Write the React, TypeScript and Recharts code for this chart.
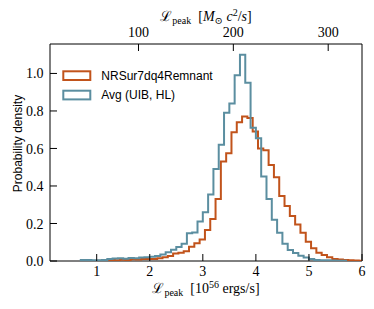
import React from 'react';
import { LineChart, Line, XAxis, YAxis, ReferenceArea, Legend } from 'recharts';

// ---- series meta ----
const seriesNames = ['NRSur7dq4Remnant', 'Avg (UIB, HL)'];
const seriesColors = ['#c1531b', '#5b8ea0'];

// ---- histogram data (density per bin, bins of width 0.1 in 10^56 erg/s) ----
const binWidth = 0.1;
const nrsurFirstEdge = 1.04;
const nrsurDensity = [
  0.002, 0.004, 0.006, 0.004, 0.007, 0.006, 0.009, 0.008, 0.010, 0.011,
  0.010, 0.014, 0.020, 0.027, 0.040, 0.044, 0.052, 0.076, 0.094, 0.114,
  0.165, 0.224, 0.330, 0.530, 0.574, 0.686, 0.740, 0.770, 0.762, 0.690,
  0.600, 0.590, 0.512, 0.446, 0.347, 0.293, 0.240, 0.195, 0.150, 0.103,
  0.068, 0.044, 0.032, 0.020, 0.011, 0.008, 0.005, 0.004, 0.003, 0.002,
];
const avgFirstEdge = 0.7;
const avgDensity = [
  0.006, 0.006, 0.004, 0.004, 0.006, 0.010, 0.013, 0.015, 0.012, 0.016,
  0.014, 0.018, 0.020, 0.022, 0.027, 0.034, 0.046, 0.060, 0.075, 0.092,
  0.148, 0.152, 0.210, 0.260, 0.355, 0.490, 0.620, 0.790, 0.840, 0.990,
  1.100, 0.950, 0.710, 0.655, 0.450, 0.330, 0.220, 0.150, 0.092, 0.058,
  0.042, 0.028, 0.018, 0.010, 0.006, 0.004, 0.004, 0.003, 0.002, 0.001,
];

// ---- axes ----
const bottomTicks = [1, 2, 3, 4, 5, 6];
const topTickLabels = [100, 200, 300];
const yTicks = [0, 0.2, 0.4, 0.6, 0.8, 1.0];
const xDomain: [number, number] = [0.12, 6];
const yDomain: [number, number] = [0, 1.157];
const MSUNC2_PER_1E56 = 55.94; // 1e56 erg/s expressed in Msun c^2 / s

const SERIF = '"Liberation Serif", "DejaVu Serif", serif';
const SANS = '"Liberation Sans", Arial, sans-serif';
const TICK = 7;

function stepPoints(firstEdge: number, density: number[]) {
  const pts: { x: number; y: number }[] = [];
  pts.push({ x: firstEdge, y: 0 });
  density.forEach((d, i) => pts.push({ x: firstEdge + i * binWidth, y: d }));
  const last = firstEdge + density.length * binWidth;
  pts.push({ x: last, y: density[density.length - 1] });
  pts.push({ x: last, y: 0 });
  return pts;
}

const nrsurData = stepPoints(nrsurFirstEdge, nrsurDensity);
const avgData = stepPoints(avgFirstEdge, avgDensity);

const BottomTick = (props: any) => {
  const { x, y, payload } = props;
  return (
    <g>
      <line x1={x} y1={y} x2={x} y2={y - TICK} stroke="#000" strokeWidth={1} />
      <text x={x} y={y + 15} textAnchor="middle" fontFamily={SERIF} fontSize={14} fill="#000">
        {payload.value}
      </text>
    </g>
  );
};

const TopTick = (props: any) => {
  const { x, y, payload } = props;
  return (
    <g>
      <line x1={x} y1={y} x2={x} y2={y + TICK} stroke="#000" strokeWidth={1} />
      <text x={x} y={y - 7} textAnchor="middle" fontFamily={SERIF} fontSize={14} fill="#000">
        {payload.value}
      </text>
    </g>
  );
};

const LeftTick = (props: any) => {
  const { x, y, payload } = props;
  return (
    <g>
      <line x1={x} y1={y} x2={x + TICK} y2={y} stroke="#000" strokeWidth={1} />
      <text x={x - 6.5} y={y} dy="0.36em" textAnchor="end" fontFamily={SERIF} fontSize={14} fill="#000">
        {Number(payload.value).toFixed(1)}
      </text>
    </g>
  );
};

const BottomLabel = (props: any) => {
  const vb = props.viewBox || { x: 50, y: 261, width: 312, height: 38 };
  const cx = vb.x + vb.width / 2;
  return (
    <text x={cx} y={vb.y + 31.5} textAnchor="middle" fontFamily={SERIF} fontSize={14} fill="#000">
      <tspan>ℒ</tspan>
      <tspan fontSize={10} dy={3}>peak</tspan>
      <tspan dy={-3}>{'\u00a0\u00a0[10'}</tspan>
      <tspan fontSize={10} dy={-5}>56</tspan>
      <tspan dy={5}>{'\u00a0ergs/s]'}</tspan>
    </text>
  );
};

const TopLabel = (props: any) => {
  const vb = props.viewBox || { x: 50, y: 10, width: 312, height: 34 };
  const cx = vb.x + vb.width / 2;
  return (
    <text x={cx} y={vb.y + 11} textAnchor="middle" fontFamily={SERIF} fontSize={14} fill="#000">
      <tspan>ℒ</tspan>
      <tspan fontSize={10} dy={3}>peak</tspan>
      <tspan dy={-3}>{'\u00a0\u00a0['}</tspan>
      <tspan fontStyle="italic">M</tspan>
      <tspan fontSize={10} dy={3}>⊙</tspan>
      <tspan dy={-3}>{'\u00a0'}</tspan>
      <tspan fontStyle="italic">c</tspan>
      <tspan fontSize={10} dy={-5}>2</tspan>
      <tspan dy={5}>/</tspan>
      <tspan fontStyle="italic">s</tspan>
      <tspan>]</tspan>
    </text>
  );
};

const LeftLabel = (props: any) => {
  const vb = props.viewBox || { x: 10, y: 44, width: 40, height: 217 };
  const bx = vb.x + 12.3;
  const cy = vb.y + vb.height / 2 - 9;
  return (
    <text
      x={bx}
      y={cy}
      textAnchor="middle"
      fontFamily={SANS}
      fontSize={12}
      fill="#000"
      transform={`rotate(-90, ${bx}, ${cy})`}
    >
      Probability density
    </text>
  );
};

const LegendContent = () => (
  <svg width={160} height={40} style={{ display: 'block' }}>
    {seriesNames.map((name, i) => (
      <g key={name}>
        <rect
          x={4.3}
          y={6.3 + i * 19.4}
          width={27}
          height={8.7}
          fill="none"
          stroke={seriesColors[i]}
          strokeWidth={2}
        />
        <text x={42.3} y={14.7 + i * 19.4} fontFamily={SANS} fontSize={12} fill="#000">
          {name}
        </text>
      </g>
    ))}
  </svg>
);

export default function App() {
  return (
    <div style={{ position: 'absolute', left: 0, top: 0, width: 374, height: 309, background: '#fff' }}>
      <LineChart width={374} height={309} margin={{ top: 10, right: 12, bottom: 10, left: 10 }}>
        <XAxis
          xAxisId="bottom"
          dataKey="x"
          type="number"
          orientation="bottom"
          domain={xDomain}
          allowDataOverflow
          ticks={bottomTicks}
          interval={0}
          height={38}
          axisLine={false}
          tickLine={false}
          tickSize={0}
          tickMargin={0}
          tick={<BottomTick />}
          label={<BottomLabel />}
        />
        <XAxis
          xAxisId="top"
          dataKey="x"
          type="number"
          orientation="top"
          domain={[xDomain[0] * MSUNC2_PER_1E56, xDomain[1] * MSUNC2_PER_1E56]}
          allowDataOverflow
          ticks={topTickLabels}
          interval={0}
          height={34}
          axisLine={false}
          tickLine={false}
          tickSize={0}
          tickMargin={0}
          tick={<TopTick />}
          label={<TopLabel />}
        />
        <YAxis
          yAxisId="left"
          type="number"
          domain={yDomain}
          allowDataOverflow
          ticks={yTicks}
          interval={0}
          width={40}
          axisLine={false}
          tickLine={false}
          tickSize={0}
          tickMargin={0}
          tick={<LeftTick />}
          label={<LeftLabel />}
        />
        <Line
          xAxisId="bottom"
          yAxisId="left"
          data={nrsurData}
          dataKey="y"
          name={seriesNames[0]}
          type="stepAfter"
          stroke={seriesColors[0]}
          strokeWidth={2}
          dot={false}
          activeDot={false}
          isAnimationActive={false}
        />
        <Line
          xAxisId="bottom"
          yAxisId="left"
          data={avgData}
          dataKey="y"
          name={seriesNames[1]}
          type="stepAfter"
          stroke={seriesColors[1]}
          strokeWidth={2}
          dot={false}
          activeDot={false}
          isAnimationActive={false}
        />
        <ReferenceArea
          xAxisId="bottom"
          yAxisId="left"
          x1={xDomain[0]}
          x2={xDomain[1]}
          y1={yDomain[0]}
          y2={yDomain[1]}
          fill="none"
          fillOpacity={0}
          stroke="#000"
          strokeWidth={1}
          ifOverflow="visible"
        />
        <Legend
          layout="vertical"
          align="center"
          verticalAlign="middle"
          content={<LegendContent />}
          wrapperStyle={{ left: 59, top: 65, width: 160, height: 40 }}
        />
      </LineChart>
    </div>
  );
}
